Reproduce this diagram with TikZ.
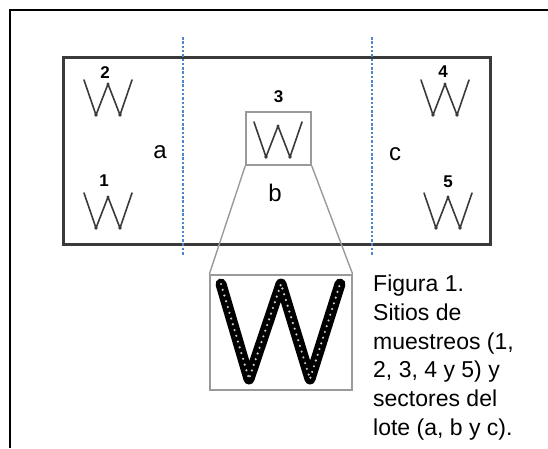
\documentclass[tikz,border=0pt]{standalone}
\usepackage{fontspec}
\setmainfont{Liberation Sans}
\usetikzlibrary{positioning}

\definecolor{lote}{HTML}{3A3A3A}
\definecolor{sector}{HTML}{4F86C9}
\definecolor{lupa}{HTML}{9A9A9A}

% W de muestreo: centro x, y superior
\newcommand{\sitioW}[2]{%
  \draw[wpath] (#1-24,#2) -- (#1-12,#2+35) -- (#1,#2+4) -- (#1+12,#2+35) -- (#1+24,#2);
  \fill[lote] (#1-12,#2+35) circle (1.8) (#1+12,#2+35) circle (1.8) (#1,#2+4) circle (1.6);
}

\tikzset{
  wpath/.style={lote,line width=1.6pt,line join=round,line cap=round},
  numero/.style={font=\fontsize{17}{17}\selectfont\bfseries,inner sep=0pt},
  letra/.style={font=\fontsize{24}{24}\selectfont,inner sep=0pt},
  cuadro/.style={draw=lupa,line width=1.4pt,inner sep=0pt},
  sectorlinea/.style={sector,line width=1.2pt,dash pattern=on 2.5pt off 1.8pt},
}

\begin{document}
\begin{tikzpicture}[x=1pt,y=-1pt]
	\useasboundingbox (0,0) rectangle (548,448);
	% marco
	\draw[line width=2pt] (9.5,448) -- (9.5,10) -- (548,10);
	% lote
	\draw[lote,line width=3pt] (63,57) rectangle (490,244);
	% sectores
	\draw[sectorlinea] (183,37) -- (183,255);
	\draw[sectorlinea] (372,37) -- (372,255);
	\node[letra] (a) at (160,152) {a};
	\node[letra] (b) at (275,193) {b};
	\node[letra] (c) at (395,154) {c};
	% sitios
	\sitioW{108}{193}
	\sitioW{108}{80}
	\sitioW{445}{80}
	\sitioW{448}{193}
	\node[numero] (n1) at (104,181) {1};
	\node[numero] (n2) at (105,73) {2};
	\node[numero] (n4) at (443,72) {4};
	\node[numero] (n5) at (448,182) {5};
	% sitio 3 y ampliacion
	\node[cuadro,minimum width=65,minimum height=53] (s3) at (278.5,138.5) {};
	\sitioW{278}{122}
	\node[numero,above=8pt of s3] (n3) {3};
	\node[cuadro,minimum width=142,minimum height=115] (zoom) at (281,332.5) {};
	\draw[line width=11pt,line join=round,line cap=round] (221,284) -- (249,379) -- (281,284) -- (310,379) -- (340,284);
	\draw[white!80!black,line width=2.4pt,line cap=round,dash pattern=on 0pt off 6pt] (221,284) -- (249,379) -- (281,284) -- (310,379) -- (340,284);
	\draw[lupa,line width=1.4pt] (s3.south west) -- (zoom.north west);
	\draw[lupa,line width=1.4pt] (s3.south east) -- (zoom.north east);
	% leyenda
	\node[anchor=north west,align=left,inner sep=0pt,font=\fontsize{23}{28.7}\selectfont] (leyenda) at (373,275)
	  {Figura 1.\\Sitios de\\muestreos (1,\\2, 3, 4 y 5) y\\sectores del\\lote (a, b y c).};
\end{tikzpicture}
\end{document}
